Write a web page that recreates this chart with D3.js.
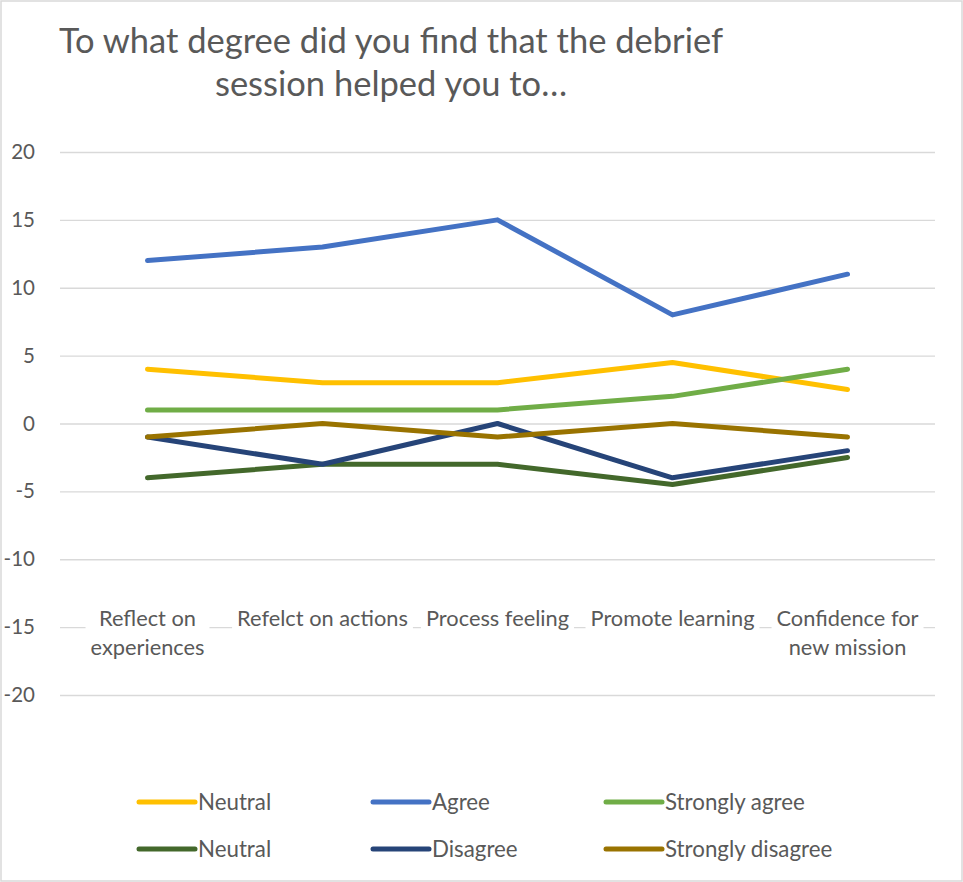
<!DOCTYPE html>
<html>
<head>
<meta charset="utf-8">
<script src="https://cdn.jsdelivr.net/npm/d3@7"></script>
<style>
  html, body { margin: 0; padding: 0; background: #fff; }
  svg { display: block; }
  text { font-family: Lato, "Noto Sans", sans-serif; fill: #595959; }
</style>
</head>
<body>
<svg id="chart" width="963" height="882"></svg>
<script>
// Survey responses per debrief goal
const categories = ["Reflect on experiences", "Refelct on actions", "Process feeling", "Promote learning", "Confidence for new mission"];
const seriesNames = ["Neutral", "Agree", "Strongly agree", "Neutral", "Disagree", "Strongly disagree"];
const seriesColors = ["#FFC000", "#4472C4", "#70AD47", "#43682B", "#264478", "#997300"];
const neutralHigh = [4, 3, 3, 4.5, 2.5];
const agree = [12, 13, 15, 8, 11];
const stronglyAgree = [1, 1, 1, 2, 4];
const neutralLow = [-4, -3, -3, -4.5, -2.5];
const disagree = [-1, -3, 0, -4, -2];
const stronglyDisagree = [-1, 0, -1, 0, -1];
const yTicks = [20, 15, 10, 5, 0, -5, -10, -15, -20];
const titleLines = ["To what degree did you find that the debrief", "session helped you to…"];

const seriesValues = [neutralHigh, agree, stronglyAgree, neutralLow, disagree, stronglyDisagree];
const series = seriesNames.map((name, i) => ({ name, color: seriesColors[i], values: seriesValues[i] }));

const svg = d3.select("#chart");
const W = 963, H = 882;

// outer frame
svg.append("rect")
  .attr("x", 1).attr("y", 1).attr("width", W - 2).attr("height", H - 2)
  .attr("fill", "#fff").attr("stroke", "#d9d9d9").attr("stroke-width", 1.5);

// title
svg.append("g").selectAll("text").data(titleLines).join("text")
  .attr("x", 391).attr("y", (d, i) => 53 + i * 43)
  .attr("text-anchor", "middle")
  .style("font-size", "34.5px")
  .text(d => d);

const plot = { left: 60, right: 935, top: 152, bottom: 695 };

const x = d3.scaleBand().domain(categories).range([plot.left, plot.right]).padding(0);
const y = d3.scaleLinear().domain([-20, 20]).range([plot.bottom, plot.top]);

// gridlines + y labels via axis
const yAxis = d3.axisLeft(y).tickValues(yTicks).tickFormat(d => String(d))
  .tickSize(-(plot.right - plot.left)).tickPadding(25);
const gy = svg.append("g").attr("transform", `translate(${plot.left},0)`).call(yAxis);
gy.select(".domain").remove();
gy.selectAll(".tick line").attr("stroke", "#d9d9d9").attr("stroke-width", 1.3);
gy.selectAll(".tick text").style("font-size", "20.5px").attr("fill", "#595959")
  .style("font-family", "Lato, sans-serif");

// category labels positioned at y = -15 with white backing
const catG = svg.append("g");
const catFont = "21.8px";
const wrapLimit = 180;
categories.forEach(cat => {
  const cx = x(cat) + x.bandwidth() / 2;
  const g = catG.append("g");
  const bg = g.append("rect").attr("fill", "#fff");
  const t = g.append("text").attr("text-anchor", "middle").style("font-size", catFont);
  // word wrap
  const words = cat.split(" ");
  let lines = [], cur = [];
  const probe = svg.append("text").style("font-size", catFont);
  words.forEach(w => {
    const trial = cur.concat([w]).join(" ");
    probe.text(trial);
    if (probe.node().getComputedTextLength() > wrapLimit && cur.length) {
      lines.push(cur.join(" ")); cur = [w];
    } else cur.push(w);
  });
  lines.push(cur.join(" "));
  probe.remove();
  const y0 = y(-15) - 1;
  lines.forEach((ln, i) => {
    t.append("tspan").attr("x", cx).attr("y", y0 + i * 29).text(ln);
  });
  const bb = t.node().getBBox();
  bg.attr("x", bb.x - 5).attr("y", bb.y).attr("width", bb.width + 10).attr("height", bb.height);
});

// series lines
const line = d3.line()
  .x((d, i) => x(categories[i]) + x.bandwidth() / 2)
  .y(d => y(d));

svg.append("g").selectAll("path").data(series).join("path")
  .attr("d", d => line(d.values))
  .attr("fill", "none")
  .attr("stroke", d => d.color)
  .attr("stroke-width", 5)
  .attr("stroke-linejoin", "round")
  .attr("stroke-linecap", "round");

// legend: 3 columns x 2 rows
const legX = [139, 373, 606];
const legY = [802, 849];
const leg = svg.append("g").selectAll("g").data(series).join("g")
  .attr("transform", (d, i) => `translate(${legX[i % 3]},${legY[Math.floor(i / 3)]})`);
leg.append("line")
  .attr("x1", 0).attr("x2", 56).attr("y1", 0).attr("y2", 0)
  .attr("stroke", d => d.color).attr("stroke-width", 5).attr("stroke-linecap", "round");
leg.append("text")
  .attr("x", 59).attr("y", 8)
  .style("font-size", "22.3px")
  .text(d => d.name);
</script>
</body>
</html>
